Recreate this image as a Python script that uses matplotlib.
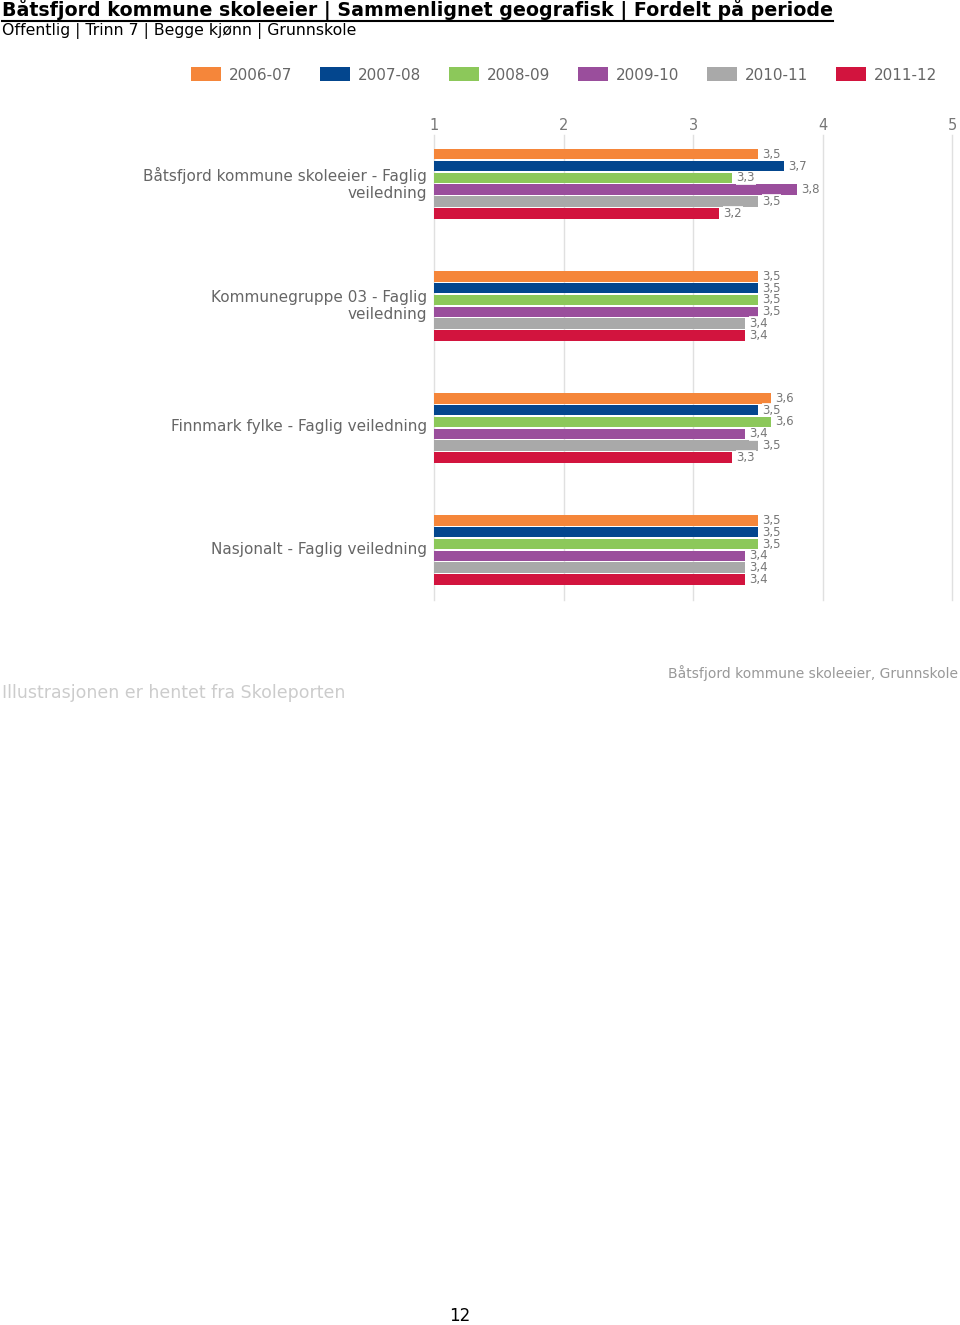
import matplotlib
matplotlib.use("Agg")
import matplotlib.pyplot as plt
from matplotlib.lines import Line2D
import numpy as np

categories = [
    "Båtsfjord kommune skoleeier - Faglig\nveiledning",
    "Kommunegruppe 03 - Faglig\nveiledning",
    "Finnmark fylke - Faglig veiledning",
    "Nasjonalt - Faglig veiledning",
]
periods = ["2006-07", "2007-08", "2008-09", "2009-10", "2010-11", "2011-12"]
v_2006_07 = [3.5, 3.5, 3.6, 3.5]
v_2007_08 = [3.7, 3.5, 3.5, 3.5]
v_2008_09 = [3.3, 3.5, 3.6, 3.5]
v_2009_10 = [3.8, 3.5, 3.4, 3.4]
v_2010_11 = [3.5, 3.4, 3.5, 3.4]
v_2011_12 = [3.2, 3.4, 3.3, 3.4]
series = [v_2006_07, v_2007_08, v_2008_09, v_2009_10, v_2010_11, v_2011_12]
colors = ["#F5863A", "#03468E", "#8CC85A", "#9A4E9C", "#A9A9A9", "#D2143E"]
xticks = [1, 2, 3, 4, 5]

W, H = 960, 1325
fig = plt.figure(figsize=(W / 100, H / 100), dpi=100)
fig.patch.set_facecolor("white")

ax = fig.add_axes([434 / W, 1 - 600 / H, (952 - 434) / W, (600 - 135) / H])
base = 1.0
pitch = 0.097
bh = 0.086
y0 = np.arange(len(categories))
for i, (vals, col, lab) in enumerate(zip(series, colors, periods)):
    ys = y0 + (i - 2.5) * pitch
    widths = [v - base for v in vals]
    ax.barh(ys, widths, left=base, height=bh, color=col, label=lab, zorder=2)
    for y, v in zip(ys, vals):
        ax.text(v + 0.035, y, f"{v:.1f}".replace(".", ","), va="center", ha="left",
                fontsize=8.5, color="#777777", zorder=3,
                bbox=dict(facecolor="white", edgecolor="none", pad=0.5, alpha=0.85))

ax.set_xlim(1, 5)
ax.set_ylim(len(categories) - 1 + 0.41, -0.40)
ax.set_xticks(xticks)
ax.set_xticklabels([str(t) for t in xticks])
ax.xaxis.tick_top()
ax.tick_params(axis="x", length=0, pad=1.5, labelsize=10.5, labelcolor="#777777")
ax.set_yticks(y0 - 0.02)
ax.set_yticklabels(categories, fontsize=11, color="#666666", linespacing=1.15)
ax.tick_params(axis="y", length=0, pad=5)
ax.grid(axis="x", color="#E0E0E0", linewidth=1, zorder=0)
for gl in ax.get_xgridlines():
    gl.set_clip_on(False)
ax.set_axisbelow(True)
for s in ax.spines.values():
    s.set_visible(False)

leg = fig.legend(loc="center", bbox_to_anchor=(564 / W, 1 - 75 / H), ncol=6, frameon=False,
                 fontsize=11, handlelength=2.0, handleheight=1.0, handletextpad=0.5,
                 columnspacing=1.8, labelcolor="#666666")

title = fig.text(2 / W, 1 - 10 / H, "Båtsfjord kommune skoleeier | Sammenlignet geografisk | Fordelt på periode",
                 fontsize=13.7, fontweight="bold", color="black", ha="left", va="center")
fig.text(2 / W, 1 - 31 / H, "Offentlig | Trinn 7 | Begge kjønn | Grunnskole",
         fontsize=11.3, color="black", ha="left", va="center")
fig.text(2 / W, 1 - 693 / H, "Illustrasjonen er hentet fra Skoleporten",
         fontsize=12.5, color="#CCCCCC", ha="left", va="center")
fig.text(958 / W, 1 - 673 / H, "Båtsfjord kommune skoleeier, Grunnskole",
         fontsize=10, color="#999999", ha="right", va="center")
fig.text(460 / W, 1 - 1316 / H, "12", fontsize=12, color="black", ha="center", va="center")

fig.canvas.draw()
bb = title.get_window_extent().transformed(fig.transFigure.inverted())
fig.add_artist(Line2D([bb.x0, bb.x1], [bb.y0 + 0.0005, bb.y0 + 0.0005], color="black",
                      linewidth=1.5, transform=fig.transFigure))

fig.savefig("out.png", dpi=100, facecolor="white")
